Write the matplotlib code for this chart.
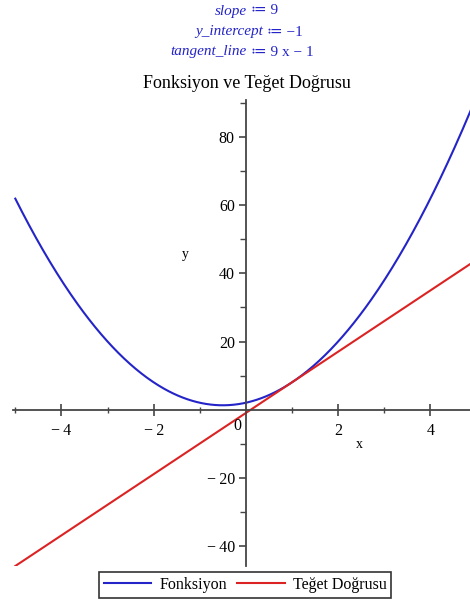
import numpy as np
import matplotlib
matplotlib.use("Agg")
import matplotlib.pyplot as plt
from matplotlib.ticker import FixedLocator, FuncFormatter

# f(x) = 3x^2 + 3x + 2 and its tangent at x = 1
poly_coeffs = [3, 3, 2]
slope = 9
y_intercept = -1
x_range = [-5, 5]

x_ticks = [-4, -2, 2, 4]
y_ticks = [-40, -20, 20, 40, 60, 80]

blue = "#2424c8"
red = "#dc2323"
axis_col = "#454545"
serif = ["Liberation Serif", "DejaVu Serif"]

plt.rcParams["font.family"] = serif

fig = plt.figure(figsize=(4.70, 6.03), dpi=100)
W, H = 470, 603
ax = fig.add_axes([13 / W, 1 - 566 / H, (470 - 13) / W, (566 - 100) / H])

x = np.linspace(x_range[0], x_range[1], 400)
ax.plot(x, np.polyval(poly_coeffs, x), color=blue, lw=1.5, label="Fonksiyon")
ax.plot(x, slope * x + y_intercept, color=red, lw=1.5, label="Teğet Doğrusu")

ax.set_xlim(-5.05, 4.86)
ax.set_ylim(-46, 91)

# axes crossing at the origin
for s in ["top", "right"]:
    ax.spines[s].set_visible(False)
ax.spines["left"].set_position(("data", 0))
ax.spines["bottom"].set_position(("data", 0))
for s in ["left", "bottom"]:
    ax.spines[s].set_color(axis_col)
    ax.spines[s].set_linewidth(1.3)

def fmt(v, pos):
    v = int(round(v))
    return f"\u2212\u2009{abs(v)}" if v < 0 else f"{v}"

ax.xaxis.set_major_locator(FixedLocator(x_ticks))
ax.xaxis.set_minor_locator(FixedLocator([-5, -3, -1, 1, 3]))
ax.yaxis.set_major_locator(FixedLocator(y_ticks))
ax.yaxis.set_minor_locator(FixedLocator([-30, -10, 10, 30, 50, 70, 90]))
ax.xaxis.set_major_formatter(FuncFormatter(fmt))
ax.yaxis.set_major_formatter(FuncFormatter(fmt))
ax.tick_params(axis="x", which="major", direction="inout", length=8, width=1.2,
               color=axis_col, labelsize=11.5, pad=6)
ax.tick_params(axis="x", which="minor", direction="inout", length=5, width=1.0, color=axis_col)
ax.tick_params(axis="y", which="major", direction="out", length=5, width=1.2,
               color=axis_col, labelsize=11.5, pad=3)
ax.tick_params(axis="y", which="minor", direction="out", length=4, width=1.0, color=axis_col)

ax.text(-0.1, -2.5, "0", ha="right", va="top", fontsize=11.5)
ax.text(2.47, -10.3, "x", ha="center", va="center", fontsize=10)
ax.text(-1.32, 45.6, "y", ha="center", va="center", fontsize=10)

fig.text(247 / W, 1 - 84 / H, "Fonksiyon ve Teğet Doğrusu", ha="center", va="center",
         fontsize=13)

# Maple-style assignment lines above the plot
lines = [
    ("slope", " \u2254 9", 247, 11),
    ("y_intercept", " \u2254 \u22121", 263, 32),
    ("tangent_line", " \u2254 9 x \u2212 1", 247, 52),
]
for name, rest, xp, yp in lines:
    fig.text(xp / W, 1 - yp / H, name, ha="right", va="center", fontsize=11,
             style="italic", color=blue, family=serif)
    fig.text(xp / W, 1 - yp / H, rest, ha="left", va="center", fontsize=11,
             color=blue, family=serif)

leg = fig.legend(loc="center", bbox_to_anchor=(245 / W, 1 - 585 / H), ncol=2,
                 frameon=True, fancybox=False, fontsize=11.5, handlelength=3.0,
                 columnspacing=0.6, handletextpad=0.5, borderpad=0.3,
                 borderaxespad=0)
leg.get_frame().set_edgecolor("black")
leg.get_frame().set_linewidth(1.2)

fig.savefig("out.png", dpi=100)
